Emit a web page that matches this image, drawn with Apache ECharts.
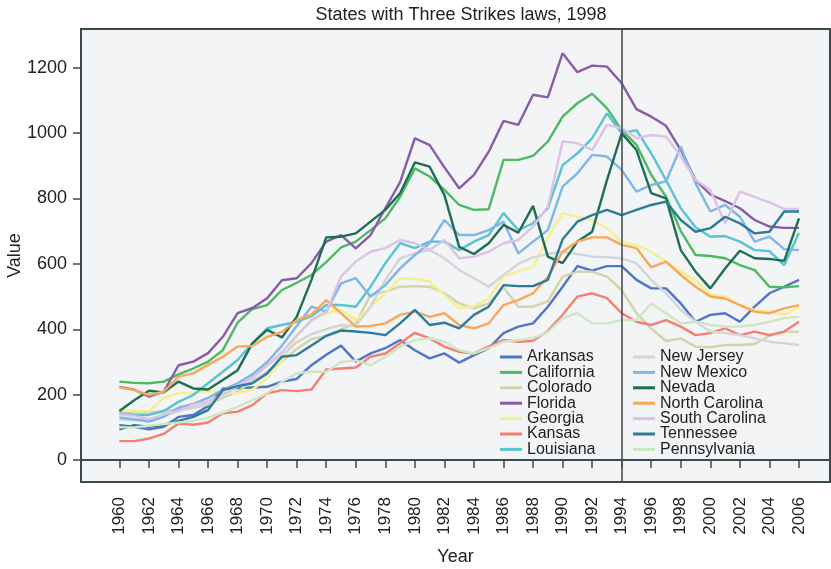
<!DOCTYPE html>
<html>
<head>
<meta charset="utf-8">
<script src="https://cdn.jsdelivr.net/npm/echarts@6/dist/echarts.min.js"></script>
<style>
  html, body { margin: 0; padding: 0; background: #fff; }
  #chart { width: 831px; height: 569px; }
</style>
</head>
<body>
<div id="chart"></div>
<script>
// years on the x axis
const years = [1960, 1961, 1962, 1963, 1964, 1965, 1966, 1967, 1968, 1969,
  1970, 1971, 1972, 1973, 1974, 1975, 1976, 1977, 1978, 1979,
  1980, 1981, 1982, 1983, 1984, 1985, 1986, 1987, 1988, 1989,
  1990, 1991, 1992, 1993, 1994, 1995, 1996, 1997, 1998, 1999,
  2000, 2001, 2002, 2003, 2004, 2005, 2006];

const xTicks = [1960, 1962, 1964, 1966, 1968, 1970, 1972, 1974, 1976, 1978, 1980, 1982,
  1984, 1986, 1988, 1990, 1992, 1994, 1996, 1998, 2000, 2002, 2004, 2006];
const yTicks = [0, 200, 400, 600, 800, 1000, 1200];
const lawYear = 1994;

const arkansas = [107, 102, 94, 102, 132, 138, 165, 219, 220, 222, 224, 240, 248, 290, 322, 350, 301, 326, 342, 367,
  336, 311, 326, 298, 321, 342, 388, 408, 418, 469, 530, 593, 579, 593, 593, 551, 525, 525, 479, 423,
  444, 449, 423, 469, 510, 530, 551];
const california = [240, 236, 235, 240, 262, 280, 301, 336, 420, 462, 474, 520, 542, 566, 605, 650, 668, 703, 739, 805,
  892, 867, 826, 780, 765, 767, 918, 918, 930, 974, 1050, 1091, 1120, 1076, 1009, 964, 872, 805, 700, 627,
  624, 617, 596, 581, 530, 528, 532];
const colorado = [150, 145, 145, 150, 155, 160, 170, 190, 210, 240, 270, 300, 340, 370, 380, 400, 418, 505, 515, 530,
  532, 530, 510, 479, 464, 479, 528, 469, 469, 485, 561, 576, 576, 561, 520, 449, 402, 364, 372, 347,
  345, 352, 352, 355, 380, 392, 392];
const florida = [224, 215, 194, 209, 290, 301, 327, 377, 449, 465, 495, 550, 556, 602, 668, 688, 647, 688, 770, 850,
  984, 963, 895, 831, 872, 943, 1037, 1025, 1117, 1109, 1244, 1186, 1206, 1203, 1152, 1073, 1050, 1022, 948, 856,
  812, 792, 770, 734, 714, 710, 710];
const georgia = [153, 150, 150, 190, 205, 205, 210, 208, 205, 215, 250, 300, 380, 428, 449, 459, 428, 469, 510, 556,
  554, 546, 505, 465, 470, 495, 560, 578, 590, 680, 755, 744, 734, 709, 668, 658, 637, 607, 576, 551,
  505, 500, 474, 459, 454, 444, 469];
const kansas = [58, 58, 66, 80, 112, 108, 115, 143, 148, 168, 204, 214, 211, 216, 277, 280, 283, 316, 326, 357,
  389, 372, 347, 331, 326, 347, 367, 362, 365, 395, 444, 500, 510, 495, 449, 423, 413, 428, 408, 382,
  388, 403, 382, 393, 382, 393, 423];
const louisiana = [143, 138, 138, 150, 178, 199, 235, 270, 306, 357, 403, 413, 423, 440, 474, 474, 469, 530, 602, 663,
  648, 668, 668, 642, 668, 688, 755, 703, 724, 770, 902, 938, 984, 1060, 999, 1009, 938, 856, 770, 712,
  683, 685, 668, 642, 639, 596, 695];
const newJersey = [125, 122, 125, 135, 150, 160, 175, 200, 225, 255, 290, 320, 360, 385, 400, 413, 410, 469, 551, 617,
  632, 642, 617, 581, 556, 530, 566, 600, 620, 630, 637, 630, 622, 620, 617, 602, 551, 510, 459, 423,
  393, 388, 382, 372, 362, 357, 352];
const newMexico = [130, 125, 118, 132, 160, 172, 190, 215, 235, 262, 300, 350, 410, 469, 454, 540, 556, 500, 535, 586,
  627, 663, 734, 688, 688, 703, 729, 632, 668, 703, 836, 877, 933, 928, 887, 821, 841, 852, 958, 846,
  760, 780, 744, 668, 683, 645, 642];
const nevada = [150, 183, 212, 207, 240, 219, 216, 245, 275, 357, 398, 375, 438, 551, 681, 683, 693, 729, 765, 816,
  910, 897, 810, 652, 630, 663, 719, 695, 777, 622, 602, 668, 698, 856, 999, 948, 816, 800, 642, 576,
  525, 586, 640, 617, 615, 609, 739];
const northCarolina = [222, 214, 199, 209, 255, 265, 291, 316, 347, 349, 377, 392, 428, 445, 489, 449, 408, 410, 418, 444,
  454, 438, 449, 413, 403, 418, 474, 489, 510, 560, 637, 668, 681, 681, 658, 648, 589, 607, 566, 530,
  500, 494, 474, 454, 449, 464, 474];
const southCarolina = [140, 135, 125, 140, 150, 170, 180, 200, 225, 250, 290, 330, 380, 428, 454, 561, 607, 637, 648, 673,
  663, 642, 673, 617, 622, 637, 663, 673, 714, 775, 974, 969, 948, 1025, 1015, 984, 994, 989, 928, 856,
  826, 724, 821, 805, 788, 768, 768];
const tennessee = [94, 107, 102, 107, 120, 132, 153, 214, 226, 235, 265, 316, 321, 350, 380, 396, 393, 389, 382, 418,
  459, 413, 420, 403, 444, 469, 535, 532, 532, 551, 675, 729, 749, 765, 749, 765, 780, 790, 734, 698,
  709, 744, 724, 693, 698, 760, 760];
const pennsylvania = [100, 100, 105, 110, 115, 120, 130, 145, 163, 183, 204, 240, 265, 270, 270, 300, 305, 290, 315, 347,
  367, 372, 362, 336, 326, 342, 362, 367, 372, 392, 434, 449, 418, 418, 428, 428, 479, 449, 418, 423,
  413, 408, 408, 413, 423, 434, 438];

const states = [
  { name: 'Arkansas', values: arkansas, color: '#4f74c8' },
  { name: 'California', values: california, color: '#4dba62' },
  { name: 'Colorado', values: colorado, color: '#d3d3ac' },
  { name: 'Florida', values: florida, color: '#8a5ca8' },
  { name: 'Georgia', values: georgia, color: '#f5f08c' },
  { name: 'Kansas', values: kansas, color: '#f57f72' },
  { name: 'Louisiana', values: louisiana, color: '#56c4d2' },
  { name: 'New Jersey', values: newJersey, color: '#d3d6d8' },
  { name: 'New Mexico', values: newMexico, color: '#80b6e6' },
  { name: 'Nevada', values: nevada, color: '#1e6e55' },
  { name: 'North Carolina', values: northCarolina, color: '#f9a85a' },
  { name: 'South Carolina', values: southCarolina, color: '#dcc3e6' },
  { name: 'Tennessee', values: tennessee, color: '#2c7b9a' },
  { name: 'Pennsylvania', values: pennsylvania, color: '#cde6c4' }
];

const font = 'Liberation Sans, Arial, sans-serif';
const axisColor = '#3b4a4f';

let series = states.map((s) => ({
  name: s.name,
  type: 'line',
  symbol: 'none',
  color: s.color,
  lineStyle: { width: 2.4, color: s.color },
  data: years.map((y, i) => [y, s.values[i]])
}));
// the vertical line at the year the law came in
series[0].markLine = {
  silent: true,
  symbol: 'none',
  label: { show: false },
  lineStyle: { color: '#4a4f52', width: 1.6, type: 'solid' },
  data: [{ xAxis: lawYear }]
};

const legendBase = {
  orient: 'vertical',
  icon: 'rect',
  itemWidth: 22,
  itemHeight: 3,
  itemGap: -0.6,
  padding: 0,
  textStyle: { fontFamily: font, fontSize: 16, color: '#222' }
};

let myChart = echarts.init(document.getElementById('chart'));
let option = {
  backgroundColor: '#fff',
  animation: false,
  title: {
    text: 'States with Three Strikes laws, 1998',
    left: 456,
    textAlign: 'center',
    top: 1,
    textStyle: { fontFamily: font, fontSize: 18, fontWeight: 'normal', color: '#222' }
  },
  legend: [
    Object.assign({}, legendBase, { left: 500, top: 349, data: states.slice(0, 7).map((s) => s.name) }),
    Object.assign({}, legendBase, { left: 633, top: 349, data: states.slice(7).map((s) => s.name) })
  ],
  grid: {
    left: 81, right: 1, top: 29, bottom: 87,
    containLabel: false,
    outerBoundsMode: 'none',
    show: true,
    backgroundColor: '#f2f4f5',
    borderColor: axisColor,
    borderWidth: 2
  },
  xAxis: {
    type: 'value',
    min: 1957.4,
    max: 2008.1,
    name: 'Year',
    nameLocation: 'middle',
    nameGap: 66,
    nameTextStyle: { fontFamily: font, fontSize: 18, color: '#222' },
    axisLine: { lineStyle: { color: axisColor, width: 2 } },
    axisTick: { show: true, length: 8, customValues: xTicks, lineStyle: { color: axisColor, width: 1.5 } },
    axisLabel: {
      customValues: xTicks, rotate: 90, margin: 15,
      fontFamily: font, fontSize: 17, color: '#222',
      formatter: (v) => String(v)
    },
    splitLine: { show: false }
  },
  yAxis: {
    type: 'value',
    min: -67,
    max: 1318,
    name: 'Value',
    nameLocation: 'middle',
    nameGap: 57,
    nameMoveOverlap: false,
    nameTextStyle: { fontFamily: font, fontSize: 18, color: '#222' },
    axisLine: { show: true, lineStyle: { color: axisColor, width: 2 } },
    axisTick: { show: true, length: 8, customValues: yTicks, lineStyle: { color: axisColor, width: 1.5 } },
    axisLabel: {
      customValues: yTicks, margin: 14, fontFamily: font, fontSize: 18, color: '#222',
      formatter: (v) => String(v)
    },
    splitLine: { show: false }
  },
  series: series
};
myChart.setOption(option);
</script>
</body>
</html>
